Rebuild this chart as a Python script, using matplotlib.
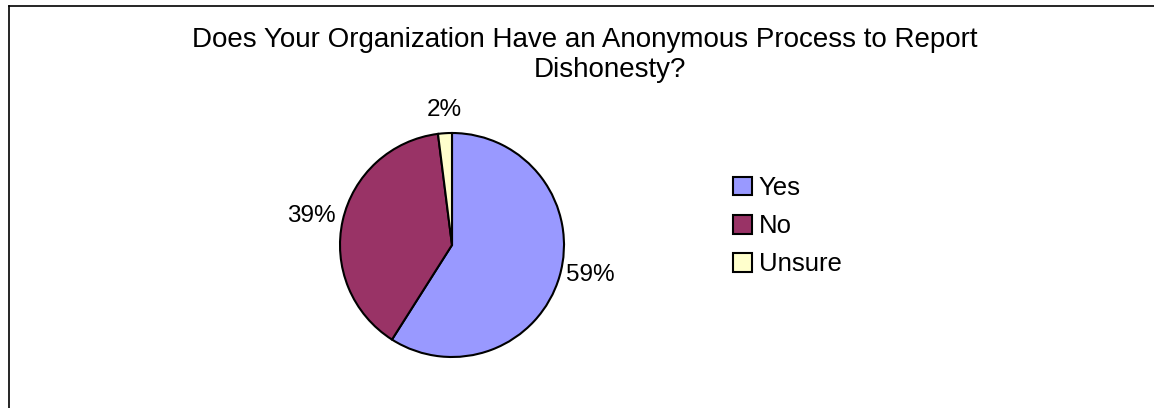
import numpy as np
import matplotlib.pyplot as plt
from matplotlib.patches import Patch
from matplotlib.lines import Line2D

plt.rcParams['font.family'] = ['Liberation Sans', 'DejaVu Sans']

labels = ['Yes', 'No', 'Unsure']
values = [59, 39, 2]
colors = ['#9999FF', '#993366', '#FFFFCC']
title_lines = ['Does Your Organization Have an Anonymous Process to Report', 'Dishonesty?']

W, H = 1154, 408
fig = plt.figure(figsize=(W / 100, H / 100), dpi=100)

# frame (only left and top edges visible in the original crop)
fig.add_artist(Line2D([9 / W, 9 / W], [0, 1 - 6 / H], transform=fig.transFigure, color='black', lw=1.2))
fig.add_artist(Line2D([9 / W, 1], [1 - 6 / H, 1 - 6 / H], transform=fig.transFigure, color='black', lw=1.2))

# pie axes: centre (452, 245), radius 112 px
cx, cy, r = 452, 245, 112
ax = fig.add_axes([(cx - r) / W, (H - cy - r) / H, 2 * r / W, 2 * r / H])
wedges, _ = ax.pie(values, colors=colors, startangle=90, counterclock=False,
                   wedgeprops=dict(edgecolor='black', linewidth=1.5))
ax.set_xlim(-1, 1)
ax.set_ylim(-1, 1)
ax.set_aspect('equal')

# percent labels just outside each wedge
for w, v in zip(wedges, values):
    ang = np.deg2rad((w.theta1 + w.theta2) / 2)
    c, s = np.cos(ang), np.sin(ang)
    if s > 0.9:
        ax.text(1.15 * c, 1.15 * s, f'{v}%', ha='center', va='baseline', fontsize=17.5, clip_on=False)
    else:
        ha = 'left' if c > 0 else 'right'
        ax.text(1.06 * c, 1.06 * s + 0.03, f'{v}%', ha=ha, va='center', fontsize=17.5, clip_on=False)

# title (two wrapped lines as in the original)
fig.text(585 / W, 1 - 47 / H, title_lines[0], ha='center', va='baseline', fontsize=20)
fig.text(610 / W, 1 - 77 / H, title_lines[1], ha='center', va='baseline', fontsize=20)

handles = [Patch(facecolor=c, edgecolor='black', linewidth=1.5) for c in colors]
fig.legend(handles, labels, loc='upper left', bbox_to_anchor=(733 / W, 1 - 176 / H),
           frameon=False, fontsize=18.5, handlelength=0.75, handleheight=0.75,
           handletextpad=0.25, labelspacing=0.55, borderaxespad=0, borderpad=0)

fig.savefig('out.png', dpi=100)
